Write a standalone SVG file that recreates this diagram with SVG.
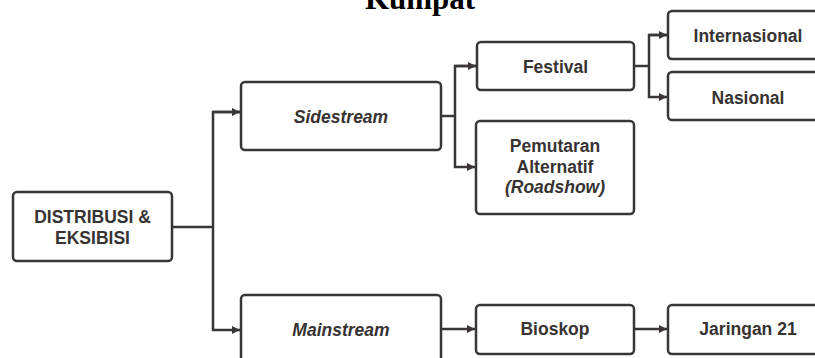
<svg xmlns="http://www.w3.org/2000/svg" width="815" height="358" viewBox="0 0 815 358">
<style>
.box{fill:#fff;stroke:#3b3636;stroke-width:2.5}
.t{font-family:"Liberation Sans",Arial,sans-serif;font-weight:bold;font-size:17.5px;fill:#383333;text-anchor:middle}
.i{font-style:italic}
.c{fill:none;stroke:#3b3636;stroke-width:2.5}
.title{font-family:"Liberation Serif","Times New Roman",serif;font-weight:bold;font-size:31px;fill:#000;text-anchor:middle}
</style>
<defs>
<marker id="ah" viewBox="0 0 10 10" refX="10" refY="5" markerWidth="3.2" markerHeight="3.2" orient="auto" markerUnits="strokeWidth">
<path d="M0,0 L10,5 L0,10 z" fill="#3b3636"/>
</marker>
</defs>
<text class="title" x="420" y="9">Kumpat</text>
<g id="connectors">
<path class="c" d="M172,227 H213"/>
<path class="c" d="M241,112 H213 V330 H240" marker-end="url(#ah)"/>
<path class="c" d="M213,112 H240" marker-end="url(#ah)"/>
<path class="c" d="M441,116 H455"/>
<path class="c" d="M476,66 H455 V167 H475" marker-end="url(#ah)"/>
<path class="c" d="M455,66 H476" marker-end="url(#ah)"/>
<path class="c" d="M634,66 H649"/>
<path class="c" d="M667,35 H649 V97 H667" marker-end="url(#ah)"/>
<path class="c" d="M649,35 H667" marker-end="url(#ah)"/>
<path class="c" d="M441,329 H475" marker-end="url(#ah)"/>
<path class="c" d="M634,329 H667" marker-end="url(#ah)"/>
</g>
<g id="distribusi">
<rect class="box" x="13" y="192" width="159" height="69" rx="4"/>
<text class="t" x="92.5" y="223">DISTRIBUSI &amp;</text>
<text class="t" x="92.5" y="244">EKSIBISI</text>
</g>
<g id="sidestream">
<rect class="box" x="241" y="82" width="200" height="68" rx="4"/>
<text class="t i" x="341" y="123">Sidestream</text>
</g>
<g id="mainstream">
<rect class="box" x="241" y="295" width="200" height="70" rx="4"/>
<text class="t i" x="341" y="336">Mainstream</text>
</g>
<g id="festival">
<rect class="box" x="477" y="42" width="157" height="48" rx="4"/>
<text class="t" x="555.5" y="73">Festival</text>
</g>
<g id="pemutaran">
<rect class="box" x="476" y="121" width="158" height="93" rx="4"/>
<text class="t" x="555" y="152">Pemutaran</text>
<text class="t" x="555" y="172.5">Alternatif</text>
<text class="t i" x="555" y="193">(Roadshow)</text>
</g>
<g id="internasional">
<rect class="box" x="668" y="11" width="158" height="48" rx="4"/>
<text class="t" x="748" y="42">Internasional</text>
</g>
<g id="nasional">
<rect class="box" x="668" y="72" width="158" height="48" rx="4"/>
<text class="t" x="748" y="104">Nasional</text>
</g>
<g id="bioskop">
<rect class="box" x="476" y="305" width="158" height="49" rx="4"/>
<text class="t" x="555" y="334.5">Bioskop</text>
</g>
<g id="jaringan">
<rect class="box" x="668" y="305" width="158" height="49" rx="4"/>
<text class="t" x="748" y="334.5">Jaringan 21</text>
</g>
</svg>
